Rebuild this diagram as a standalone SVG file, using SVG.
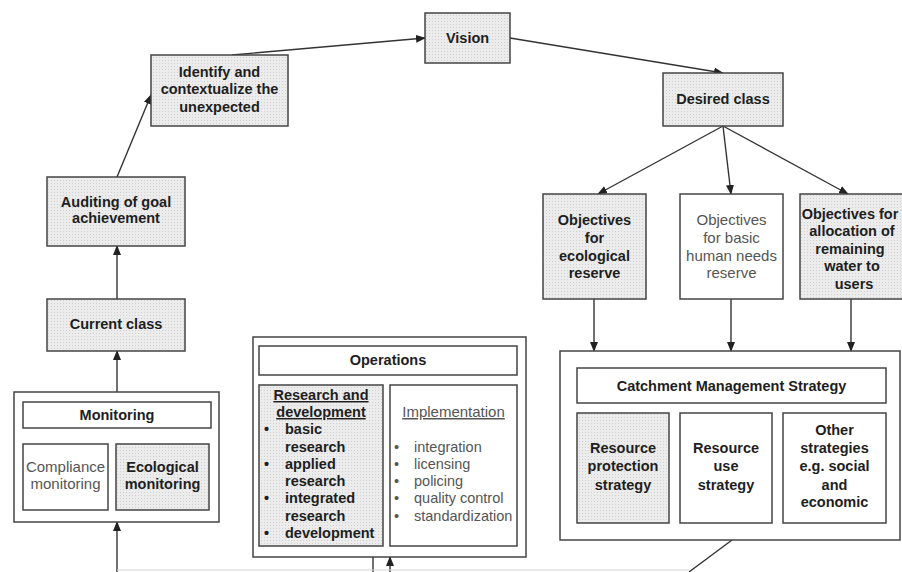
<svg xmlns="http://www.w3.org/2000/svg" width="902" height="572" viewBox="0 0 902 572">
<defs>
<marker id="ah" markerWidth="10" markerHeight="8" refX="9" refY="4" orient="auto" markerUnits="userSpaceOnUse">
<path d="M0,0 L10,4 L0,8 Z" fill="#222"/>
</marker>
<pattern id="dots" width="3" height="3" patternUnits="userSpaceOnUse">
<rect width="3" height="3" fill="#ececec"/>
<rect width="1" height="1" fill="#cfcfcf"/>
</pattern>
</defs>
<style>
.box{fill:#fff;stroke:#444;stroke-width:1.5}
.sh{fill:url(#dots);stroke:#444;stroke-width:1.5}
.b{font-family:"Liberation Sans",Arial,sans-serif;font-weight:bold;font-size:14.5px;fill:#1e1e1e;text-anchor:middle}
.r{font-family:"Liberation Sans",Arial,sans-serif;font-size:15px;fill:#555;text-anchor:middle}
.bl{font-family:"Liberation Sans",Arial,sans-serif;font-weight:bold;font-size:14.5px;fill:#1e1e1e}
.rl{font-family:"Liberation Sans",Arial,sans-serif;font-size:14.5px;fill:#555}
.c{stroke:#333;stroke-width:1.4;fill:none}
</style>
<rect width="902" height="572" fill="#fff"/>

<g id="connectors">
<line class="c" x1="232" y1="55" x2="425" y2="38" marker-end="url(#ah)"/>
<line class="c" x1="510" y1="38" x2="723" y2="73" marker-end="url(#ah)"/>
<line class="c" x1="117" y1="177" x2="151" y2="95" marker-end="url(#ah)"/>
<line class="c" x1="117" y1="299" x2="117" y2="246" marker-end="url(#ah)"/>
<line class="c" x1="117" y1="392" x2="117" y2="351" marker-end="url(#ah)"/>
<line class="c" x1="117" y1="572" x2="117" y2="522" marker-end="url(#ah)"/>
<line class="c" x1="723" y1="126" x2="598" y2="194" marker-end="url(#ah)"/>
<line class="c" x1="723" y1="126" x2="731" y2="194" marker-end="url(#ah)"/>
<line class="c" x1="723" y1="126" x2="848" y2="194" marker-end="url(#ah)"/>
<line class="c" x1="594" y1="299" x2="594" y2="351" marker-end="url(#ah)"/>
<line class="c" x1="731" y1="299" x2="731" y2="351" marker-end="url(#ah)"/>
<line class="c" x1="851" y1="299" x2="851" y2="351" marker-end="url(#ah)"/>
<line class="c" x1="373" y1="557" x2="373" y2="572"/>
<line class="c" x1="390" y1="572" x2="390" y2="557" marker-end="url(#ah)"/>
<line class="c" x1="732" y1="540" x2="689" y2="572"/>
<line x1="117" y1="570" x2="690" y2="570" stroke="#d4d4d4" stroke-width="1.2"/>
</g>

<g id="vision">
<rect class="sh" x="425" y="13" width="85" height="50"/>
<text class="b" x="467.5" y="43">Vision</text>
</g>

<g id="identify">
<rect class="sh" x="151" y="55" width="137" height="71"/>
<text class="b" x="219.5" y="77">Identify and</text>
<text class="b" x="219.5" y="94">contextualize the</text>
<text class="b" x="219.5" y="112">unexpected</text>
</g>

<g id="desired">
<rect class="sh" x="663" y="73" width="120" height="53"/>
<text class="b" x="723" y="104">Desired class</text>
</g>

<g id="auditing">
<rect class="sh" x="47" y="177" width="138" height="69"/>
<text class="b" x="116" y="207">Auditing of goal</text>
<text class="b" x="116" y="223">achievement</text>
</g>

<g id="current">
<rect class="sh" x="47" y="299" width="138" height="52"/>
<text class="b" x="116" y="329">Current class</text>
</g>

<g id="monitoring">
<rect class="box" x="14" y="392" width="205" height="130"/>
<rect class="box" x="23" y="402" width="188" height="26"/>
<text class="b" x="117" y="420">Monitoring</text>
<rect class="box" x="23" y="444" width="85" height="66"/>
<text class="r" x="65.5" y="472">Compliance</text>
<text class="r" x="65.5" y="489">monitoring</text>
<rect class="sh" x="116" y="444" width="93" height="66"/>
<text class="b" x="162.5" y="472">Ecological</text>
<text class="b" x="162.5" y="489">monitoring</text>
</g>

<g id="operations">
<rect class="box" x="253" y="337" width="273" height="220"/>
<rect class="box" x="259" y="346" width="258" height="29"/>
<text class="b" x="388" y="365">Operations</text>
<rect class="sh" x="259" y="385" width="124" height="161"/>
<text class="b" x="321" y="400" text-decoration="underline">Research and</text>
<text class="b" x="321" y="417" text-decoration="underline">development</text>
<text class="bl" x="264" y="434">•</text><text class="bl" x="285" y="434">basic</text>
<text class="bl" x="285" y="452">research</text>
<text class="bl" x="264" y="469">•</text><text class="bl" x="285" y="469">applied</text>
<text class="bl" x="285" y="486">research</text>
<text class="bl" x="264" y="503">•</text><text class="bl" x="285" y="503">integrated</text>
<text class="bl" x="285" y="521">research</text>
<text class="bl" x="264" y="538">•</text><text class="bl" x="285" y="538">development</text>
<rect class="box" x="390" y="385" width="127" height="161"/>
<text class="r" x="453.5" y="417" text-decoration="underline">Implementation</text>
<text class="rl" x="394" y="452">•</text><text class="rl" x="414" y="452">integration</text>
<text class="rl" x="394" y="469">•</text><text class="rl" x="414" y="469">licensing</text>
<text class="rl" x="394" y="486">•</text><text class="rl" x="414" y="486">policing</text>
<text class="rl" x="394" y="503">•</text><text class="rl" x="414" y="503">quality control</text>
<text class="rl" x="394" y="521">•</text><text class="rl" x="414" y="521">standardization</text>
</g>

<g id="obj-eco">
<rect class="sh" x="543" y="194" width="103" height="105"/>
<text class="b" x="594.5" y="225">Objectives</text>
<text class="b" x="594.5" y="243">for</text>
<text class="b" x="594.5" y="261">ecological</text>
<text class="b" x="594.5" y="278">reserve</text>
</g>

<g id="obj-basic">
<rect class="box" x="680" y="194" width="103" height="105"/>
<text class="r" x="731.5" y="225">Objectives</text>
<text class="r" x="731.5" y="243">for basic</text>
<text class="r" x="731.5" y="261">human needs</text>
<text class="r" x="731.5" y="278">reserve</text>
</g>

<g id="obj-alloc">
<rect class="sh" x="800" y="194" width="105" height="105"/>
<text class="b" x="850" y="219">Objectives for</text>
<text class="b" x="852" y="236">allocation of</text>
<text class="b" x="850" y="254">remaining</text>
<text class="b" x="852" y="271">water to</text>
<text class="b" x="854" y="289">users</text>
</g>

<g id="catchment">
<rect class="box" x="560" y="351" width="340" height="189"/>
<rect class="box" x="577" y="368" width="309" height="35"/>
<text class="b" x="731.5" y="391">Catchment Management Strategy</text>
<rect class="sh" x="577" y="413" width="92" height="110"/>
<text class="b" x="623" y="453">Resource</text>
<text class="b" x="623" y="471">protection</text>
<text class="b" x="623" y="490">strategy</text>
<rect class="box" x="680" y="413" width="92" height="110"/>
<text class="b" x="726" y="453">Resource</text>
<text class="b" x="726" y="471">use</text>
<text class="b" x="726" y="490">strategy</text>
<rect class="box" x="783" y="413" width="103" height="110"/>
<text class="b" x="834.5" y="435">Other</text>
<text class="b" x="834.5" y="453">strategies</text>
<text class="b" x="834.5" y="471">e.g. social</text>
<text class="b" x="834.5" y="490">and</text>
<text class="b" x="834.5" y="507">economic</text>
</g>
</svg>
